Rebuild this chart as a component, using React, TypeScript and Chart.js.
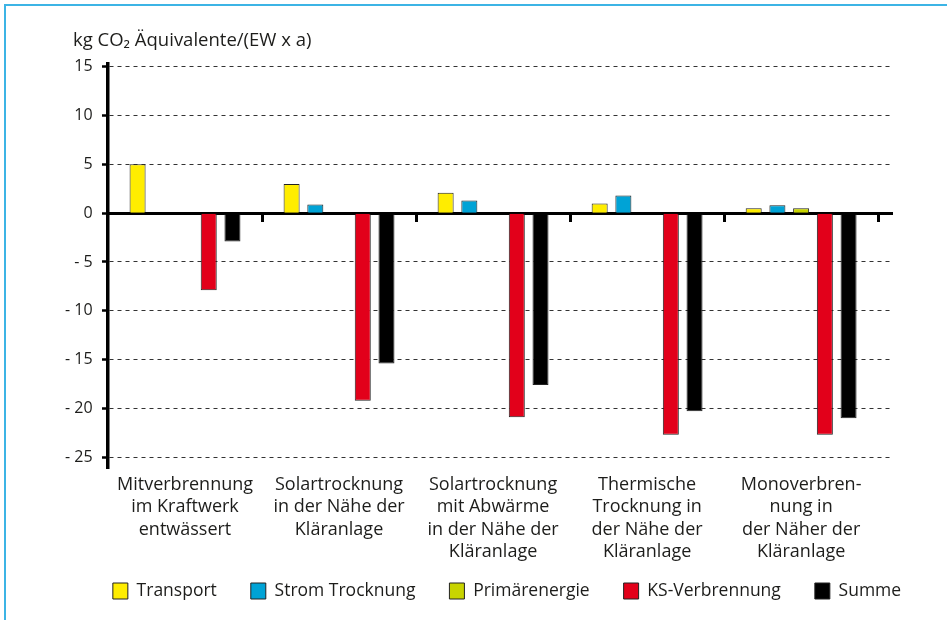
import { useEffect, useRef } from 'react';
import { Chart, registerables } from 'chart.js';

Chart.register(...registerables);

const categories: string[][] = [
  ['Mitverbrennung', 'im Kraftwerk', 'entwässert'],
  ['Solartrocknung', 'in der Nähe der', 'Kläranlage'],
  ['Solartrocknung', 'mit Abwärme', 'in der Nähe der', 'Kläranlage'],
  ['Thermische', 'Trocknung in', 'der Nähe der', 'Kläranlage'],
  ['Monoverbren-', 'nung in', 'der Näher der', 'Kläranlage'],
];

const seriesNames = ['Transport', 'Strom Trocknung', 'Primärenergie', 'KS-Verbrennung', 'Summe'];
const transport = [5.0, 3.0, 2.1, 1.0, 0.5];
const stromTrocknung = [null, 0.9, 1.3, 1.8, 0.8];
const primaerenergie = [null, null, null, null, 0.5];
const ksVerbrennung = [-7.9, -19.2, -20.9, -22.7, -22.7];
const summe = [-2.9, -15.4, -17.6, -20.3, -21.0];
const seriesColors = ['#FFED00', '#00A3D6', '#C8D400', '#E2001A', '#000000'];

const yTitle = 'kg CO₂ Äquivalente/(EW x a)';
const yTickValues = [-25, -20, -15, -10, -5, 0, 5, 10, 15];
const yMin = -26.1;
const yMax = 15.3;
const xMax = 5.09;

const TEXT = '#1d1d1b';

export default function App() {
  const ref = useRef<HTMLCanvasElement | null>(null);

  useEffect(() => {
    if (!ref.current) return;
    Chart.defaults.font.family = "'Open Sans', sans-serif";
    const seriesData = [transport, stromTrocknung, primaerenergie, ksVerbrennung, summe];
    const toPoints = (arr: (number | null)[]) => arr.map((v, i) => ({ x: i + 0.5, y: v }));
    const catTicks = (s: any) => {
      s.ticks = categories.map((_, i) => ({ value: i + 0.5 }));
    };
    const boundaryTicks = (s: any) => {
      s.ticks = categories.map((_, i) => ({ value: i + 1 }));
    };
    const yTicks = (s: any) => {
      s.ticks = yTickValues.map((v) => ({ value: v }));
    };
    const chart = new Chart(ref.current, {
      type: 'bar',
      data: {
        datasets: seriesData.map((arr, k) => ({
          label: seriesNames[k],
          data: toPoints(arr) as any,
          backgroundColor: seriesColors[k],
          borderColor: '#222',
          borderWidth: 1,
          categoryPercentage: 0.77,
          barPercentage: 0.675,
        })),
      },
      options: {
        animation: false,
        responsive: false,
        devicePixelRatio: 1,
        layout: { padding: { left: 73, right: 6, top: 0, bottom: 10.25 } },
        plugins: {
          title: {
            display: true,
            text: yTitle,
            align: 'start',
            color: TEXT,
            font: { size: 18.5, weight: 'normal', lineHeight: 1.2 },
            padding: { top: 30, bottom: 11.6 },
          },
          legend: {
            position: 'bottom',
            labels: {
              boxWidth: 15,
              boxHeight: 16,
              padding: 34,
              color: TEXT,
              font: { size: 17.5 },
            },
          },
          tooltip: { enabled: false },
        },
        scales: {
          x: {
            type: 'linear',
            min: 0,
            max: xMax,
            bounds: 'data',
            offset: false,
            afterBuildTicks: catTicks,
            afterFit: (s: any) => {
              s.height = 80.25;
            },
            grid: { display: false, offset: false },
            border: { display: false },
            ticks: { display: false },
          },
          xL: {
            type: 'linear',
            axis: 'x',
            position: { y: yMin + 0.22 } as any,
            min: 0,
            max: xMax,
            bounds: 'data',
            offset: false,
            afterBuildTicks: catTicks,
            grid: { display: false, offset: false },
            border: { display: false },
            ticks: {
              autoSkip: false,
              maxRotation: 0,
              minRotation: 0,
              padding: 0,
              color: TEXT,
              font: { size: 18, lineHeight: 1.24 },
              callback: (_v: any, i: number) => categories[i],
            },
          },
          x2: {
            type: 'linear',
            axis: 'x',
            position: { y: 0 } as any,
            min: 0,
            max: xMax,
            bounds: 'data',
            offset: false,
            z: 1,
            afterBuildTicks: boundaryTicks,
            grid: { offset: false, drawOnChartArea: false, drawTicks: true, tickLength: 7, tickWidth: 3, tickColor: '#000' },
            border: { display: true, color: '#000', width: 3 },
            ticks: { display: false },
          },
          y: {
            type: 'linear',
            min: yMin,
            max: yMax,
            bounds: 'data',
            afterBuildTicks: yTicks,
            afterFit: (s: any) => {
              s.width = 35;
            },
            ticks: { display: false },
            grid: { color: '#333', lineWidth: 1, tickLength: 6, tickWidth: 2.5, tickColor: '#000' },
            border: { display: true, color: '#000', width: 3.5, dash: [4, 4] },
          },
          yL: {
            type: 'linear',
            axis: 'y',
            position: { x: -0.1 } as any,
            min: yMin,
            max: yMax,
            bounds: 'data',
            afterBuildTicks: yTicks,
            grid: { display: false },
            border: { display: false },
            ticks: {
              padding: 0,
              color: TEXT,
              font: { size: 16 },
              callback: (v: any) => (Number(v) < 0 ? '- ' + Math.abs(Number(v)) : String(v)),
            },
          },
          yR: {
            type: 'linear',
            position: 'right',
            afterFit: (s: any) => {
              s.width = 49;
            },
            grid: { display: false },
            border: { display: false },
            ticks: { display: false },
          },
        } as any,
      },
    });
    return () => chart.destroy();
  }, []);

  return (
    <div style={{ position: 'absolute', left: 0, top: 0, width: 947, height: 620, background: '#fff', overflow: 'hidden' }}>
      <div
        style={{
          position: 'absolute',
          left: 4,
          top: 4,
          right: 0,
          bottom: 0,
          borderTop: '2px solid #3cb4e5',
          borderLeft: '2px solid #3cb4e5',
        }}
      />
      <canvas ref={ref} width={947} height={620} style={{ position: 'absolute', left: 0, top: 0 }} />
    </div>
  );
}
